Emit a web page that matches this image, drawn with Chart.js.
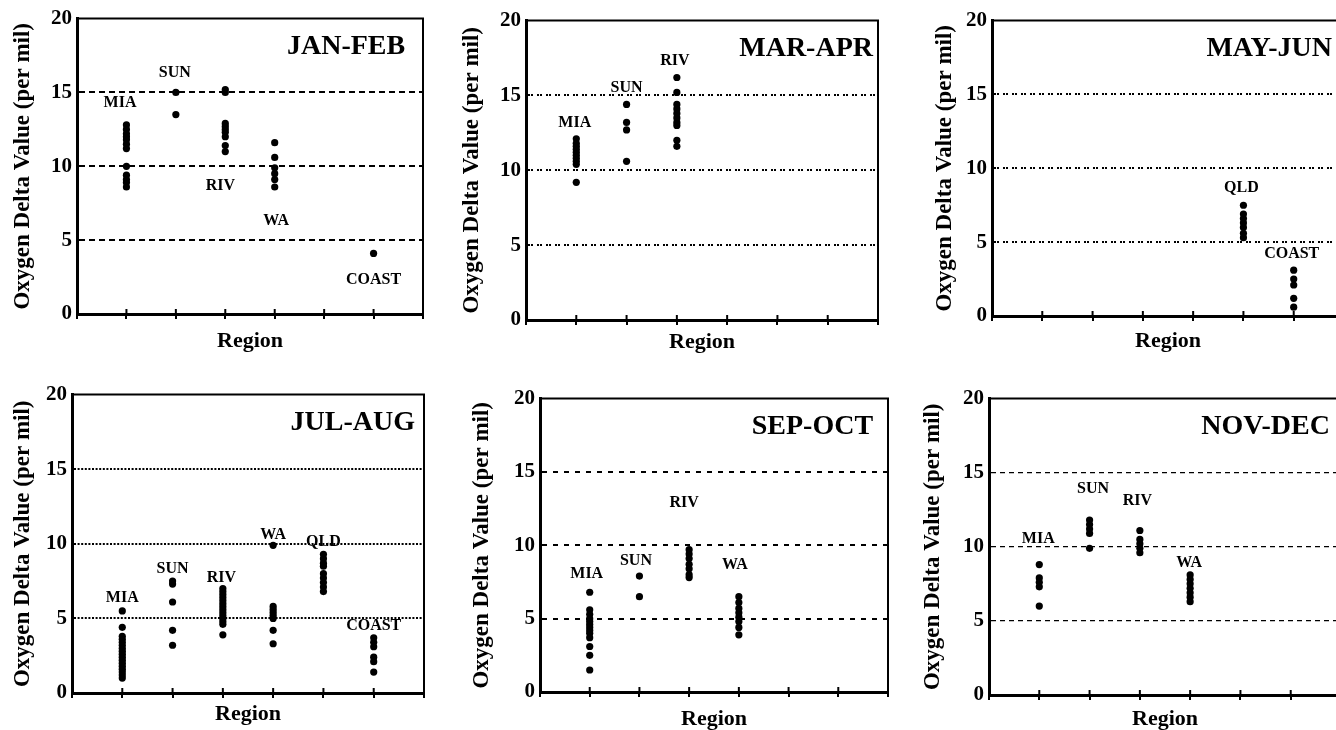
<!DOCTYPE html>
<html lang="en">
<head>
<meta charset="UTF-8"/>
<title>Oxygen Delta Value by Region</title>
<script src="https://cdn.jsdelivr.net/npm/chart.js"></script>
<style>
  html, body { margin:0; padding:0; background:#fff; overflow:hidden; width:1336px; height:730px; }
  canvas { position:absolute; }
</style>
</head>
<body>
<script>
const regionNames = ['MIA','SUN','RIV','WA','QLD','COAST'];
const periods = ['JAN-FEB','MAR-APR','MAY-JUN','JUL-AUG','SEP-OCT','NOV-DEC'];

// values (per mil) for each region, in regionNames order
const janFeb = [
  [12.8,12.5,12.2,12.0,11.8,11.5,11.2,10.0,9.4,9.1,8.9,8.6],
  [15.0,13.5],
  [15.2,15.0,12.9,12.7,12.5,12.3,12.0,11.4,11.0],
  [11.6,10.6,9.9,9.5,9.1,8.6],
  [],
  [4.1]
];
const marApr = [
  [12.1,11.8,11.6,11.4,11.2,11.0,10.8,10.6,10.4,9.2],
  [14.4,13.2,12.7,10.6],
  [16.2,15.2,14.4,14.1,13.8,13.5,13.2,13.0,12.0,11.6],
  [], [], []
];
const mayJun = [
  [], [], [], [],
  [7.5,6.9,6.6,6.3,6.0,5.6,5.3],
  [3.1,2.5,2.1,1.2,0.6]
];
const julAug = [
  [5.5,4.4,3.8,3.6,3.4,3.2,3.0,2.8,2.6,2.4,2.2,2.0,1.8,1.6,1.4,1.2,1.0],
  [7.5,7.3,6.1,4.2,3.2],
  [7.0,6.8,6.6,6.4,6.2,6.0,5.8,5.6,5.4,5.2,5.0,4.8,4.6,3.9],
  [9.9,5.8,5.6,5.4,5.2,5.0,4.2,3.3],
  [9.3,9.0,8.7,8.5,8.0,7.7,7.4,7.1,6.8],
  [3.7,3.4,3.1,2.4,2.1,1.4]
];
const sepOct = [
  [6.8,5.6,5.3,5.0,4.8,4.6,4.4,4.2,4.0,3.7,3.1,2.5,1.5],
  [7.9,6.5],
  [9.7,9.4,9.1,8.7,8.4,8.0,7.8],
  [6.5,6.1,5.7,5.4,5.1,4.8,4.4,3.9],
  [], []
];
const novDec = [
  [8.8,7.9,7.6,7.3,6.0],
  [11.8,11.5,11.2,10.9,9.9],
  [11.1,10.5,10.2,9.9,9.6],
  [8.1,7.8,7.5,7.2,6.9,6.6,6.3],
  [], []
];

// where each region name sits, in data units [x, y]
const janFebTags = [[0.87,14.3],[1.98,16.3],[2.9,8.7],[4.03,6.3],null,[6.0,2.3]];
const marAprTags = [[0.97,13.2],[2.0,15.5],[2.96,17.3],null,null,null];
const mayJunTags = [null,null,null,null,[4.96,8.7],[5.96,4.2]];
const julAugTags = [[1.0,6.35],[2.0,8.3],[2.97,7.75],[4.0,10.6],[5.0,10.1],[6.0,4.5]];
const sepOctTags = [[0.94,8.05],[1.93,8.95],[2.9,12.9],[3.92,8.7],null,null];
const novDecTags = [[0.98,10.55],[2.07,13.9],[2.95,13.1],[3.98,8.95],null,null];

const allValues = [janFeb, marApr, mayJun, julAug, sepOct, novDec];
const allTags = [janFebTags, marAprTags, mayJunTags, julAugTags, sepOctTags, novDecTags];

// page geometry of each plot area + line styles
const boxes = [
  {cl:77,  cr:423,  ct:17,  cb:314, left:0,   xh:41, dash:[6,4],     gw:2,   tx:6.64},
  {cl:526, cr:878,  ct:19,  cb:320, left:449, xh:36, dash:[2,1,2,4], gw:2,   tx:6.9},
  {cl:992, cr:1344, ct:19,  cb:316, left:922, xh:39, dash:[2,1,2,4], gw:2,   tx:6.76},
  {cl:72,  cr:424,  ct:393, cb:693, left:0,   xh:35, dash:[2,1.6],   gw:2,   tx:6.82},
  {cl:540, cr:888,  ct:397, cb:692, left:459, xh:41, dash:[5,6],     gw:2,   tx:6.7},
  {cl:989, cr:1341, ct:397, cb:695, left:910, xh:38, dash:[5,4],     gw:1.2, tx:6.78}
];

const SERIF = '"Liberation Serif", "Times New Roman", serif';
const PAD_TOP = 16, PAD_RIGHT = 4;

const decor = {
  id: 'decor',
  afterDatasetsDraw(chart, args, o) {
    const {ctx, chartArea: a, scales: {x, y}} = chart;
    ctx.save();
    ctx.strokeStyle = '#000';
    ctx.lineWidth = 2;
    ctx.beginPath();
    ctx.moveTo(a.left, a.top);
    ctx.lineTo(a.right, a.top);
    ctx.lineTo(a.right, a.bottom);
    ctx.stroke();
    // inner half of the x ticks
    for (let v = 1; v <= 7; v++) {
      const px = x.getPixelForValue(v);
      ctx.beginPath();
      ctx.moveTo(px, a.bottom);
      ctx.lineTo(px, a.bottom - 5);
      ctx.stroke();
    }
    ctx.fillStyle = '#000';
    ctx.textAlign = 'center';
    ctx.textBaseline = 'middle';
    ctx.font = 'bold 16px ' + SERIF;
    o.tags.forEach((t, i) => {
      if (!t) return;
      ctx.fillText(regionNames[i], x.getPixelForValue(t[0]), y.getPixelForValue(t[1]));
    });
    ctx.font = 'bold 28px ' + SERIF;
    ctx.textAlign = 'right';
    ctx.fillText(o.title, x.getPixelForValue(o.tx), y.getPixelForValue(18.1));
    ctx.restore();
  }
};

boxes.forEach((b, k) => {
  const yw = b.cl - b.left;
  const cv = document.createElement('canvas');
  const w = yw + (b.cr - b.cl) + PAD_RIGHT;
  const h = PAD_TOP + (b.cb - b.ct) + b.xh;
  cv.width = w; cv.height = h;
  cv.style.width = w + 'px'; cv.style.height = h + 'px';
  cv.style.left = b.left + 'px';
  cv.style.top = (b.ct - PAD_TOP) + 'px';
  document.body.appendChild(cv);

  const pts = [];
  allValues[k].forEach((vals, i) => vals.forEach(v => pts.push({x: i + 1, y: v})));

  new Chart(cv, {
    type: 'scatter',
    data: { datasets: [{ data: pts, pointRadius: 3.6, pointHoverRadius: 3.6, backgroundColor: '#000', borderWidth: 0 }] },
    options: {
      responsive: false,
      animation: false,
      devicePixelRatio: 1,
      events: [],
      layout: { padding: { top: PAD_TOP, right: PAD_RIGHT, left: 0, bottom: 0 } },
      plugins: {
        legend: { display: false },
        tooltip: { enabled: false },
        decor: { title: periods[k], tags: allTags[k], tx: b.tx }
      },
      scales: {
        x: {
          type: 'linear', min: 0, max: 7,
          afterFit: s => { s.height = b.xh; },
          ticks: { display: false, stepSize: 1 },
          grid: { drawOnChartArea: false, drawTicks: true, tickLength: 5, color: '#000', lineWidth: 2 },
          border: { color: '#000', width: 3 },
          title: { display: true, text: 'Region', color: '#000', padding: 0,
                   font: { family: SERIF, size: 22, weight: 'bold' } }
        },
        y: {
          min: 0, max: 20,
          afterFit: s => { s.width = yw; },
          ticks: { stepSize: 5, padding: 5, color: '#000', font: { family: SERIF, size: 21, weight: 'bold' } },
          grid: {
            color: c => (c.tick && c.tick.value > 0 && c.tick.value < 20) ? '#000' : 'rgba(0,0,0,0)',
            lineWidth: b.gw, drawTicks: false
          },
          border: { color: '#000', width: 3, dash: b.dash },
          title: { display: true, text: 'Oxygen Delta Value (per mil)', color: '#000',
                   padding: { top: 9, bottom: 0 },
                   font: { family: SERIF, size: 23, weight: 'bold' } }
        }
      }
    },
    plugins: [decor]
  });
});
</script>
</body>
</html>
